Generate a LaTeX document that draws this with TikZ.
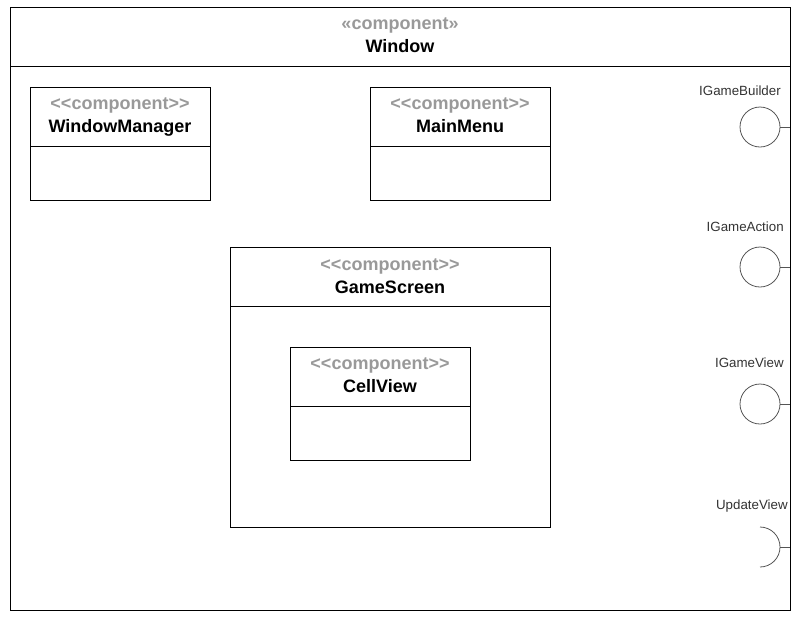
\documentclass[tikz,border=0pt]{standalone}
\usepackage{fontspec}
\setmainfont{Liberation Sans}
\usepackage{xcolor}
\usetikzlibrary{positioning}

\definecolor{stereo}{HTML}{999999}
\definecolor{ifcline}{HTML}{555555}
\definecolor{ifctext}{HTML}{333333}

\tikzset{
	comp/.style={draw=black,line width=0.75pt,inner sep=0pt,outer sep=0pt},
	small/.style={comp,minimum width=135pt,minimum height=84.75pt},
	head/.style={align=center,inner sep=0pt,font=\fontsize{13.5}{17.25}\selectfont\bfseries},
	ifc/.style={circle,draw=ifcline,line width=0.6pt,minimum size=30pt,inner sep=0pt,outer sep=0pt},
	ifclabel/.style={anchor=east,inner sep=0pt,text=ifctext,font=\fontsize{10}{12}\selectfont}
}

\begin{document}
\begin{tikzpicture}[x=0.75pt,y=-0.75pt]
	\useasboundingbox (0,0) rectangle (799,618);
	% outer component
	\node(win) at (400,308.5)[comp,minimum width=585pt,minimum height=452.25pt]{};
	\draw[line width=0.75pt] ([yshift=-44.25pt]win.north west) -- ([yshift=-44.25pt]win.north east);
	\node(wint) at (400,37)[head]{\textcolor{stereo}{«component»}\\Window\vphantom{g}};
	
	% inner components
	\node(wm) at (120,143.5)[small]{};
	\draw[line width=0.75pt] ([yshift=-44.25pt]wm.north west) -- ([yshift=-44.25pt]wm.north east);
	\node(wmt) at (120,117)[head]{\textcolor{stereo}{<{}<component>{}>}\\WindowManager\vphantom{g}};
	
	\node(menu) at (460,143.5)[small]{};
	\draw[line width=0.75pt] ([yshift=-44.25pt]menu.north west) -- ([yshift=-44.25pt]menu.north east);
	\node(menut) at (460,117)[head]{\textcolor{stereo}{<{}<component>{}>}\\MainMenu\vphantom{g}};
	
	\node(gs) at (390,387)[comp,minimum width=240pt,minimum height=210pt]{};
	\draw[line width=0.75pt] ([yshift=-44.25pt]gs.north west) -- ([yshift=-44.25pt]gs.north east);
	\node(gst) at (390,278)[head]{\textcolor{stereo}{<{}<component>{}>}\\GameScreen\vphantom{g}};
	
	\node(cv) at (380,403.5)[small]{};
	\draw[line width=0.75pt] ([yshift=-44.25pt]cv.north west) -- ([yshift=-44.25pt]cv.north east);
	\node(cvt) at (380,377)[head]{\textcolor{stereo}{<{}<component>{}>}\\CellView\vphantom{g}};
	
	% provided interfaces
	\node(ib) at (760,127)[ifc]{};
	\node(ibl) at (781,91)[ifclabel]{IGameBuilder};
	\draw[ifcline,line width=0.6pt] (ib.east) -- (ib.east -| win.east);
	
	\node(ia) at (760,267)[ifc]{};
	\node(ial) at (784,227)[ifclabel]{IGameAction};
	\draw[ifcline,line width=0.6pt] (ia.east) -- (ia.east -| win.east);
	
	\node(iv) at (760,404)[ifc]{};
	\node(ivl) at (784,363)[ifclabel]{IGameView};
	\draw[ifcline,line width=0.6pt] (iv.east) -- (iv.east -| win.east);
	
	% required interface
	\coordinate(uv) at (760,547);
	\node(uvl) at (788,506)[ifclabel]{UpdateView};
	\draw[ifcline,line width=0.6pt] ([yshift=15pt]uv) arc[start angle=90,end angle=-90,radius=15pt];
	\draw[ifcline,line width=0.6pt] ([xshift=15pt]uv) -- (uv -| win.east);
\end{tikzpicture}
\end{document}
